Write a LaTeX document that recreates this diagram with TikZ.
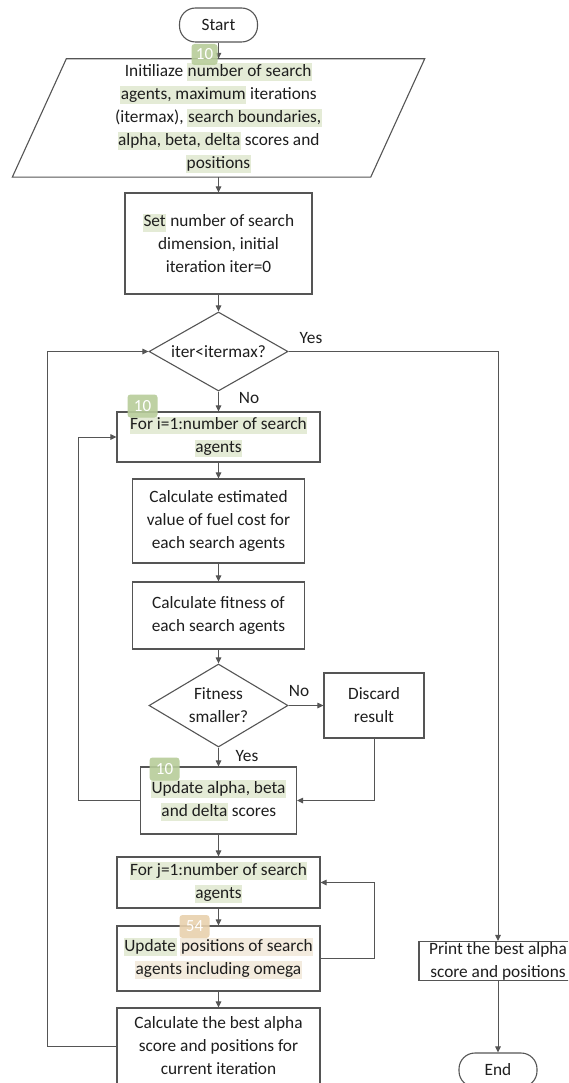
\documentclass[tikz,border=0pt]{standalone}
\usepackage{fontspec}
\setmainfont{Carlito}
\usetikzlibrary{shapes.geometric,arrows.meta}
\definecolor{lncol}{HTML}{555555}
\definecolor{txcol}{HTML}{1E1E1E}
\definecolor{hlgreen}{HTML}{E4EBD6}
\definecolor{hlbeige}{HTML}{F3EBDE}
\definecolor{bggreen}{HTML}{B7CC9A}
\definecolor{bgtan}{HTML}{E8D1AD}
\newcommand{\hlg}[1]{{\setlength{\fboxsep}{0.6pt}\colorbox{hlgreen}{\rule[-4pt]{0pt}{16.5pt}#1}}}
\newcommand{\hlb}[1]{{\setlength{\fboxsep}{0.6pt}\colorbox{hlbeige}{\rule[-4pt]{0pt}{16.5pt}#1}}}
\tikzset{
  base/.style={font=\fontsize{17.3}{23}\selectfont, text=txcol, align=center, inner sep=0pt},
  proc/.style={base, draw=lncol, line width=1.1pt, rectangle},
  term/.style={base, draw=lncol, line width=1.1pt, rectangle, rounded corners=16pt},
  dec/.style={base, draw=lncol, line width=1.1pt, diamond},
  lbl/.style={base},
  badge/.style={fill=bggreen, rounded corners=3pt, text=white, font=\fontsize{17}{17}\selectfont,
    minimum width=30pt, minimum height=23pt, inner sep=0pt, fill opacity=0.9, text opacity=1},
  arr/.style={draw=lncol, line width=1pt, -{Triangle[length=6pt,width=5.5pt]}},
  lnst/.style={draw=lncol, line width=1.1pt}
}
\begin{document}
\begin{tikzpicture}[x=1pt,y=-1pt]
\useasboundingbox (0,0) rectangle (568,1083);
\clip (0,0) rectangle (568,1083);
\fill[white] (0,0) rectangle (568,1083);

% nodes
\node[term, minimum width=78pt, minimum height=34pt] (start) at (218.5,25) {Start};
\node[base, minimum width=412pt, minimum height=118pt] (para) at (218.5,118)
  {Initiliaze \hlg{number of search}\\
   \hlg{agents, maximum} iterations\\
   (itermax), \hlg{search boundaries,}\\
   \hlg{alpha, beta, delta} scores and\\
   \hlg{positions}};
\draw[lnst] ([xshift=54pt]para.north west) -- (para.north east)
  -- ([xshift=-54pt]para.south east) -- (para.south west) -- cycle;
\node[proc, minimum width=187pt, minimum height=101pt] (set) at (218.5,243.5)
  {\hlg{Set} number of search\\dimension, initial\\iteration iter=0};
\node[dec, minimum width=139pt, minimum height=79pt, aspect=1.76] (d1) at (218.5,351.5) {iter<itermax?};
\node[proc, minimum width=203pt, minimum height=50pt] (fori) at (218.5,437)
  {\hlg{For i=1:number of search}\\\hlg{agents}};
\node[proc, minimum width=172pt, minimum height=84pt] (est) at (218.5,521)
  {Calculate estimated\\value of fuel cost for\\each search agents};
\node[proc, minimum width=172pt, minimum height=67pt] (fit) at (218.5,615.5)
  {Calculate fitness of\\each search agents};
\node[dec, minimum width=139pt, minimum height=83pt, aspect=1.67] (d2) at (218.5,705.5) {Fitness\\smaller?};
\node[proc, minimum width=100pt, minimum height=65pt] (disc) at (374,705.5) {Discard\\result};
\node[proc, minimum width=156pt, minimum height=67pt] (upd) at (218.5,800.5)
  {\hlg{Update alpha, beta}\\\hlg{and delta} scores};
\node[proc, minimum width=203pt, minimum height=51pt] (forj) at (218.5,882.5)
  {\hlg{For j=1:number of search}\\\hlg{agents}};
\node[proc, minimum width=203pt, minimum height=65pt] (pos) at (218.5,958.5)
  {\hlg{Update} \hlb{positions of search}\\\hlb{agents including omega}};
\node[proc, minimum width=203pt, minimum height=76pt] (best) at (218.5,1046)
  {Calculate the best alpha\\score and positions for\\current iteration};
\node[proc, minimum width=158pt, minimum height=39pt] (print) at (498,961)
  {Print the best alpha\\score and positions};
\node[term, minimum width=78pt, minimum height=34pt] (end) at (498,1070) {End};

% labels
\node[lbl] (yes1) at (311,338) {Yes};
\node[lbl] (no1) at (249,398) {No};
\node[lbl] (no2) at (299,691) {No};
\node[lbl] (yes2) at (247,756) {Yes};

% helper coordinates
\coordinate (lp1) at (78,800.5);
\coordinate (lp2) at (374,958.5);
\coordinate (lp3) at (47,1046);

% connectors
\draw[arr] (start.south) -- (para.north);
\draw[arr] (para.south) -- (set.north);
\draw[arr] (set.south) -- (d1.north);
\draw[arr] (d1.south) -- (fori.north);
\draw[arr] (d1.east) -| (print.north);
\draw[arr] (fori.south) -- (est.north);
\draw[arr] (est.south) -- (fit.north);
\draw[arr] (fit.south) -- (d2.north);
\draw[arr] (d2.east) -- (disc.west);
\draw[arr] (d2.south) -- (upd.north);
\draw[arr] (disc.south) |- (upd.east);
\draw[arr] (upd.west) -- (lp1) |- (fori.west);
\draw[arr] (upd.south) -- (forj.north);
\draw[arr] (forj.south) -- (pos.north);
\draw[arr] (pos.east) -- (lp2) |- (forj.east);
\draw[arr] (pos.south) -- (best.north);
\draw[arr] (best.west) -- (lp3) |- (d1.west);
\draw[arr] (print.south) -- (end.north);

% badges
\node[badge, minimum width=26pt, minimum height=21pt] (bd1) at (204.5,54.5) {10};
\node[badge] (bd2) at (142.5,406) {10};
\node[badge] (bd3) at (164.5,769) {10};
\node[badge, fill=bgtan] (bd4) at (194.5,926.5) {54};
\end{tikzpicture}
\end{document}
